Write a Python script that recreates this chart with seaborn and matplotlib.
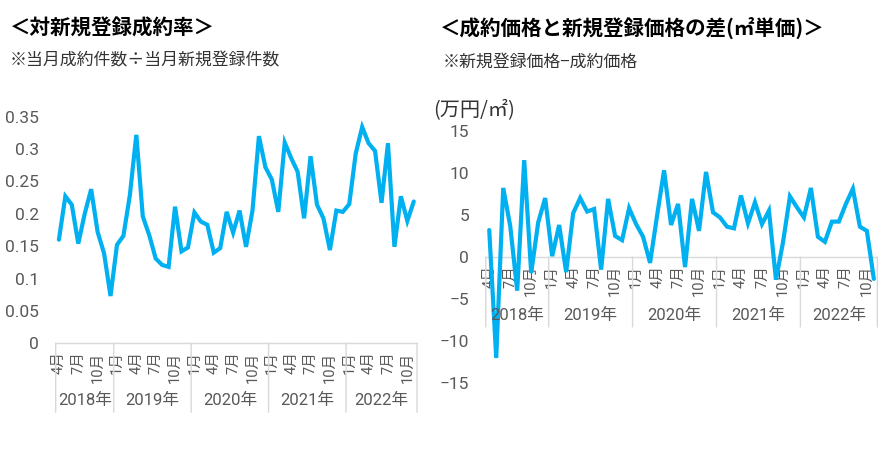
import numpy as np
import pandas as pd
import matplotlib
matplotlib.use("Agg")
import matplotlib.pyplot as plt
import seaborn as sns

# ---- data (Apr 2018 .. Nov 2022, monthly) ----
years = [2018] * 9 + [2019] * 12 + [2020] * 12 + [2021] * 12 + [2022] * 11
months = list(range(4, 13)) + list(range(1, 13)) * 3 + list(range(1, 12))

rate = [0.160, 0.227, 0.214, 0.154, 0.200, 0.238, 0.172, 0.139, 0.073,
        0.152, 0.166, 0.229, 0.322, 0.196, 0.167, 0.131, 0.121, 0.118, 0.211, 0.142, 0.148, 0.202,
        0.188, 0.183, 0.140, 0.147, 0.203, 0.171, 0.205, 0.149, 0.205, 0.320, 0.272, 0.253,
        0.203, 0.310, 0.286, 0.265, 0.193, 0.289, 0.214, 0.193, 0.144, 0.205, 0.203, 0.215,
        0.293, 0.334, 0.309, 0.297, 0.217, 0.309, 0.149, 0.227, 0.189, 0.219]

diff = [3.2, -12.0, 8.2, 3.7, -4.0, 11.5, -1.9, 4.1, 7.0,
        0.1, 3.8, -1.8, 5.2, 7.0, 5.4, 5.7, -1.5, 6.9, 2.5, 2.0, 5.8,
        3.9, 2.4, -0.7, 4.9, 10.3, 3.8, 6.3, -1.2, 6.9, 3.1, 10.1, 5.3,
        4.7, 3.6, 3.4, 7.3, 4.0, 6.5, 3.9, 5.5, -2.7, 1.7, 7.2, 5.9,
        4.7, 8.2, 2.4, 1.8, 4.2, 4.2, 6.3, 8.1, 3.6, 3.1, -2.6]

left_yticks = [0, 0.05, 0.1, 0.15, 0.2, 0.25, 0.3, 0.35]
left_ylabels = ["0", "0.05", "0.1", "0.15", "0.2", "0.25", "0.3", "0.35"]
right_yticks = [-15, -10, -5, 0, 5, 10, 15]
right_ylabels = ["\u221215", "\u221210", "\u22125", "0", "5", "10", "15"]

left_title = "＜対新規登録成約率＞"
left_sub = "※当月成約件数÷当月新規登録件数"
right_title = "＜成約価格と新規登録価格の差(㎡単価)＞"
right_sub = "※新規登録価格−成約価格"
unit_label = "(万円/㎡)"

df = pd.DataFrame({"idx": np.arange(len(rate)), "year": years, "month": months,
                   "rate": rate, "diff": diff})

sns.set_theme(style="white")
CJK = ["Noto Sans CJK JP", "DejaVu Sans"]
NUM = ["Roboto", "Noto Sans CJK JP", "DejaVu Sans"]
plt.rcParams["font.family"] = NUM

LINE = "#00B0F0"
GRAY = "#595959"
SEP = "#D9D9D9"

fig = plt.figure(figsize=(8.88, 4.53), dpi=100)
axL = fig.add_axes([0.0627, 0.2422, 0.4069, 0.5002])
axR = fig.add_axes([0.547, 0.1539, 0.441, 0.5576])


def style_axis(ax, col, ylim, yticks, ylabels, sep_len, year_off):
    sns.lineplot(data=df, x="idx", y=col, ax=ax, color=LINE, linewidth=3.0,
                 solid_joinstyle="miter", zorder=3)
    n = len(df)
    ax.set_xlim(-0.5, n - 0.5)
    ax.set_ylim(*ylim)
    ax.set_yticks(yticks)
    ax.set_yticklabels(ylabels, fontsize=12.5, color=GRAY, family=NUM)
    ax.tick_params(axis="y", length=0, pad=12)
    ax.set_xlabel("")
    ax.set_ylabel("")
    for s in ["top", "right", "left"]:
        ax.spines[s].set_visible(False)
    ax.spines["bottom"].set_position(("data", 0))
    ax.spines["bottom"].set_color(SEP)
    ax.spines["bottom"].set_linewidth(1.0)
    # month tick labels every 3 months
    sel = df[df["month"].isin([1, 4, 7, 10])]
    ax.set_xticks(sel["idx"].tolist())
    ax.set_xticklabels([f"{m}月" for m in sel["month"]], rotation=90,
                       fontsize=10.5, color=GRAY, family=NUM)
    ax.tick_params(axis="x", length=0, pad=6)
    # year separators and labels
    bounds = [-0.5]
    for y in sorted(df["year"].unique()):
        sub = df[df["year"] == y]
        bounds.append(sub["idx"].max() + 0.5)
        ax.annotate(f"{y}年", xy=((sub["idx"].min() + sub["idx"].max()) / 2, 0),
                    xytext=(0, -year_off), textcoords="offset pixels",
                    ha="center", va="center", fontsize=12, color=GRAY,
                    family=NUM, annotation_clip=False)
    for b in bounds:
        ax.annotate("", xy=(b, 0), xytext=(0, -sep_len), textcoords="offset pixels",
                    arrowprops=dict(arrowstyle="-", color=SEP, lw=1.0,
                                    shrinkA=0, shrinkB=0),
                    annotation_clip=False)


style_axis(axL, "rate", (0, 0.35), left_yticks, left_ylabels, 69, 57)
style_axis(axR, "diff", (-15, 15), right_yticks, right_ylabels, 70, 58)

fig.text(10 / 888, 1 - 28 / 453, left_title, fontsize=14.8, fontweight="bold",
         family=CJK, color="black", va="center", ha="left")
fig.text(10 / 888, 1 - 60 / 453, left_sub, fontsize=12.2, family=CJK,
         color="#333333", va="center", ha="left")
fig.text(440 / 888, 1 - 28 / 453, right_title, fontsize=14.8, fontweight="bold",
         family=CJK, color="black", va="center", ha="left")
fig.text(443 / 888, 1 - 62 / 453, right_sub, fontsize=12.2, family=CJK,
         color="#333333", va="center", ha="left")
fig.text(433 / 888, 1 - 111 / 453, unit_label, fontsize=14.5, family=CJK,
         color="#333333", va="center", ha="left")

fig.savefig("out.png", dpi=100)
